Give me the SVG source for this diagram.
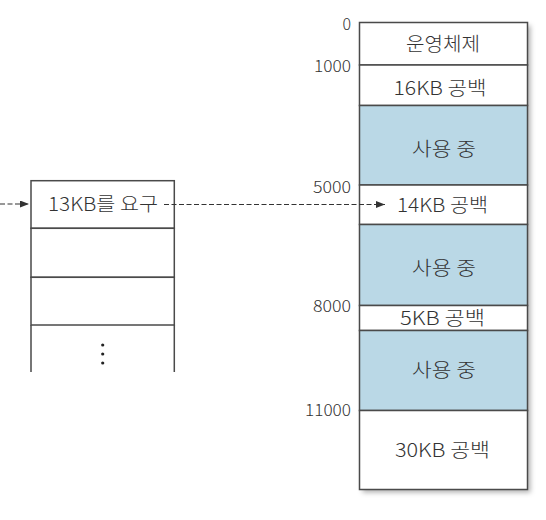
<svg xmlns="http://www.w3.org/2000/svg" width="546" height="520" viewBox="0 0 546 520">
  <defs>
    <filter id="shadow" x="-10%" y="-10%" width="130%" height="130%">
      <feDropShadow dx="3" dy="3" stdDeviation="2.5" flood-color="#000" flood-opacity="0.3"/>
    </filter>
    <marker id="arrow" viewBox="0 0 9 7" refX="9" refY="3.5" markerWidth="9" markerHeight="7" markerUnits="userSpaceOnUse" orient="auto">
      <path d="M0,0 L9,3.5 L0,7 Z" fill="#333"/>
    </marker>
  </defs>
  <style>
    .lbl { font-family: "Noto Sans CJK KR", "Noto Sans", sans-serif; font-size: 19px; font-weight: 300; fill: #333; text-anchor: middle; }
    .addr { font-family: "Noto Sans CJK KR", "Noto Sans", sans-serif; font-size: 16px; font-weight: 300; fill: #333; text-anchor: end; }
    .cell { stroke: #4a4a4a; stroke-width: 1.5; }
    .free { fill: #ffffff; }
    .used { fill: #bad8e6; }
    .conn { stroke: #333; stroke-width: 1.2; stroke-dasharray: 5 2.5; fill: none; }
  </style>
  <rect width="546" height="520" fill="#ffffff"/>

  <g id="memory">
    <rect x="359.5" y="22.5" width="168" height="467" fill="#ffffff" filter="url(#shadow)"/>
    <g id="os">
      <rect class="cell free" x="359.5" y="22.5" width="168" height="42.5"/>
      <text class="lbl" x="443" y="50.5" textLength="74" lengthAdjust="spacingAndGlyphs">운영체제</text>
    </g>
    <g id="free16">
      <rect class="cell free" x="359.5" y="65" width="168" height="40.5"/>
      <text class="lbl" x="440" y="94.5" textLength="93" lengthAdjust="spacingAndGlyphs">16KB 공백</text>
    </g>
    <g id="used1">
      <rect class="cell used" x="359.5" y="105.5" width="168" height="79.5"/>
      <text class="lbl" x="444" y="155.5" textLength="64" lengthAdjust="spacingAndGlyphs">사용 중</text>
    </g>
    <g id="free14">
      <rect class="cell free" x="359.5" y="185" width="168" height="39.5"/>
      <text class="lbl" x="442.5" y="211.5" textLength="91" lengthAdjust="spacingAndGlyphs">14KB 공백</text>
    </g>
    <g id="used2">
      <rect class="cell used" x="359.5" y="224.5" width="168" height="81"/>
      <text class="lbl" x="444" y="275" textLength="64" lengthAdjust="spacingAndGlyphs">사용 중</text>
    </g>
    <g id="free5">
      <rect class="cell free" x="359.5" y="305.5" width="168" height="25"/>
      <text class="lbl" x="442.5" y="324.5" textLength="85" lengthAdjust="spacingAndGlyphs">5KB 공백</text>
    </g>
    <g id="used3">
      <rect class="cell used" x="359.5" y="330.5" width="168" height="80"/>
      <text class="lbl" x="444" y="377" textLength="64" lengthAdjust="spacingAndGlyphs">사용 중</text>
    </g>
    <g id="free30">
      <rect class="cell free" x="359.5" y="410.5" width="168" height="79"/>
      <text class="lbl" x="442.5" y="457" textLength="95" lengthAdjust="spacingAndGlyphs">30KB 공백</text>
    </g>
  </g>

  <g id="addresses">
    <text class="addr" x="351" y="29.5">0</text>
    <text class="addr" x="351" y="72" textLength="37" lengthAdjust="spacingAndGlyphs">1000</text>
    <text class="addr" x="351" y="193" textLength="38" lengthAdjust="spacingAndGlyphs">5000</text>
    <text class="addr" x="351" y="312" textLength="38" lengthAdjust="spacingAndGlyphs">8000</text>
    <text class="addr" x="351" y="416" textLength="46" lengthAdjust="spacingAndGlyphs">11000</text>
  </g>

  <g id="queue">
    <g id="request">
      <rect class="cell free" x="31" y="180.7" width="143.3" height="47.6"/>
      <text class="lbl" x="103" y="211" textLength="110" lengthAdjust="spacingAndGlyphs">13KB를 요구</text>
    </g>
    <g id="slot2">
      <rect class="cell free" x="31" y="228.3" width="143.3" height="49"/>
    </g>
    <g id="slot3">
      <rect class="cell free" x="31" y="277.3" width="143.3" height="47.7"/>
    </g>
    <g id="slot4">
      <path class="cell" d="M31,325 V372 M174.3,325 V372" fill="none"/>
      <circle cx="102.7" cy="345" r="1.6" fill="#222"/>
      <circle cx="102.7" cy="354" r="1.6" fill="#222"/>
      <circle cx="102.7" cy="363" r="1.6" fill="#222"/>
    </g>
  </g>

  <g id="connectors">
    <line class="conn" x1="0" y1="204" x2="29" y2="204" marker-end="url(#arrow)"/>
    <line class="conn" x1="164" y1="204.5" x2="385" y2="204.5" marker-end="url(#arrow)"/>
  </g>
</svg>
